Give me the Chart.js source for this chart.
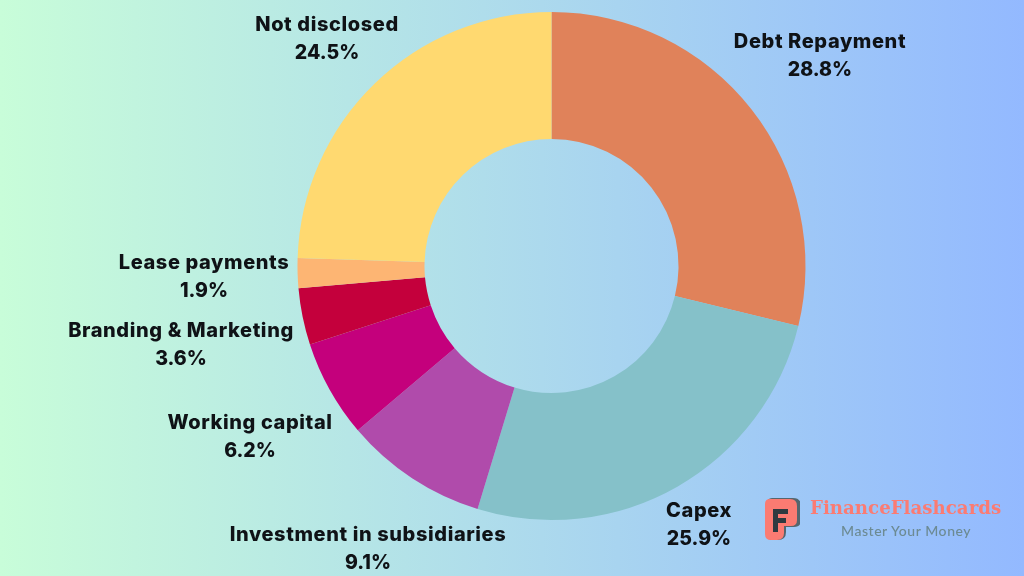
<!DOCTYPE html>
<html><head><meta charset="utf-8">
<style>
html,body{margin:0;padding:0;width:1024px;height:576px;overflow:hidden;background:linear-gradient(90deg,#c8fdd9 0%,#93b9ff 100%);}
#c{position:absolute;left:0;top:0;width:1024px;height:576px;}
.logo{position:absolute;left:764px;top:496px;}
.t{position:absolute;white-space:nowrap;}
#brand{left:810px;top:497px;font:700 18.2px "DejaVu Serif";color:#fb7b72;letter-spacing:0;}
#tag{left:841px;top:522px;font:500 14px "Lato";color:#6c8a92;letter-spacing:.55px;}
</style></head><body>
<canvas id="c" width="1024" height="576"></canvas>
<svg class="logo" width="36" height="46" viewBox="0 0 36 46">
<path d="M7 2H28Q36 2 36 10V24Q36 31 29 31H21V36Q21 44 13 44H8Q2 44 2 38V8Q2 2 7 2Z" fill="#55666e" transform="translate(1,0)"/>
<path d="M6 3H26Q33 3 33 10V24Q33 30 27 30H20V37Q20 44 13 44H7Q1 44 1 38V8Q1 3 6 3Z" fill="#fb7b72"/>
<path d="M9 13H24V18H14V22H22V27H14V36H9Z" fill="#2f3a40"/>
</svg>
<div class="t" id="brand">FinanceFlashcards</div>
<div class="t" id="tag">Master Your Money</div>
<script src="https://cdn.jsdelivr.net/npm/chart.js@4"></script>
<script>
const categories=["Debt Repayment","Capex","Investment in subsidiaries","Working capital","Branding & Marketing","Lease payments","Not disclosed"];
const values=[28.8,25.9,9.1,6.2,3.6,1.9,24.5];
const colors=["#e0825a","#85c1c9","#b04bab","#c4007c","#c4003c","#fdb573","#ffd970"];
const labelAnchors=[[820,42],[699,511],[368,535],[250,423],[181,331],[204,263],[327,25]];
const labelPlugin={id:"sliceLabels",afterDatasetsDraw(chart){
  const ctx=chart.ctx;ctx.save();
  ctx.fillStyle="#0f1216";ctx.textAlign="center";ctx.textBaseline="middle";
  categories.forEach((name,i)=>{
    const [x,y]=labelAnchors[i];
    ctx.font='800 20px "Inter"';
    ctx.letterSpacing="0.6px";
    ctx.fillText(name,x,y);
    ctx.font='800 19.5px "Inter"';
    ctx.letterSpacing="0px";
    ctx.fillText(values[i].toFixed(1)+"%",x,y+28);
  });
  ctx.restore();
}};
new Chart(document.getElementById("c"),{
  type:"doughnut",
  data:{labels:categories,datasets:[{data:values,backgroundColor:colors,borderWidth:0}]},
  options:{responsive:false,animation:false,cutout:"50%",
    layout:{padding:{left:297.5,right:218.5,top:12,bottom:56}},
    plugins:{legend:{display:false},tooltip:{enabled:false}}},
  plugins:[labelPlugin]
});
</script>
</body></html>
